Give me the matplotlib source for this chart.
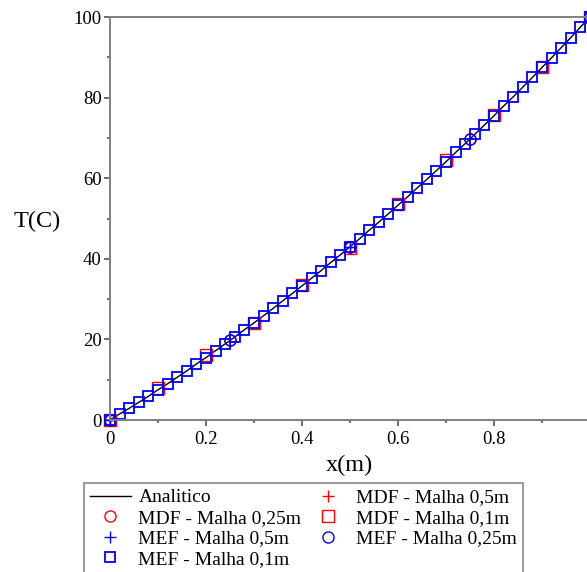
import numpy as np
import matplotlib.pyplot as plt
from matplotlib.ticker import MultipleLocator

plt.rcParams['font.family'] = ['Liberation Serif', 'DejaVu Serif']

# Solucao analitica e MEF com malha 0,1m (pontos a cada 0,02)
x_fino = np.round(np.arange(0, 1.0001, 0.02), 2)
T_analitico = [0.0, 1.5, 2.9, 4.4, 5.9, 7.5, 9.0, 10.6, 12.2, 13.9,
               15.5, 17.2, 18.9, 20.6, 22.4, 24.1, 25.9, 27.7, 29.6, 31.4,
               33.3, 35.2, 37.1, 39.1, 41.0, 43.0, 45.0, 47.1, 49.1, 51.2,
               53.3, 55.4, 57.6, 59.7, 61.9, 64.1, 66.4, 68.6, 70.9, 73.2,
               75.5, 77.9, 80.2, 82.6, 85.0, 87.5, 89.9, 92.4, 94.9, 97.5,
               100.0]
T_mef_01 = T_analitico

# MDF - malhas 0,5m / 0,25m / 0,1m
x_05 = [0, 0.5, 1]
T_mdf_05 = [0, 43.0, 100]
x_025 = [0, 0.25, 0.5, 0.75, 1]
T_mdf_025 = [0, 19.8, 43.0, 69.8, 100]
x_01 = [0, 0.1, 0.2, 0.3, 0.4, 0.5, 0.6, 0.7, 0.8, 0.9, 1]
T_mdf_01 = [0, 7.9, 16.2, 24.0, 33.4, 42.8, 53.5, 64.6, 75.8, 87.6, 100]

# MEF - malhas 0,5m / 0,25m
T_mef_05 = [0, 43.0, 100]
T_mef_025 = [0, 19.8, 43.0, 69.8, 100]

fig = plt.figure(figsize=(5.87, 5.72), dpi=100)
ax = fig.add_axes([0.1874, 0.2657, 0.8177, 0.7045])

h_an, = ax.plot(x_fino, T_analitico, color='black', lw=1.0, label='Analitico')
h1, = ax.plot(x_05, T_mdf_05, ls='none', marker='+', color='red', ms=9, mew=1,
              label='MDF - Malha 0,5m', clip_on=False)
h2, = ax.plot(x_025, T_mdf_025, ls='none', marker='o', color='red', mfc='none',
              ms=8, mew=1, label='MDF - Malha 0,25m', clip_on=False)
h3, = ax.plot(x_01, T_mdf_01, ls='none', marker='s', color='red', mfc='none',
              ms=8.5, mew=1, label='MDF - Malha 0,1m', clip_on=False)
h4, = ax.plot(x_05, T_mef_05, ls='none', marker='+', color='blue', ms=9, mew=1,
              label='MEF - Malha 0,5m', clip_on=False)
h5, = ax.plot(x_025, T_mef_025, ls='none', marker='o', color='blue', mfc='none',
              ms=8, mew=1, label='MEF - Malha 0,25m', clip_on=False)
h6, = ax.plot(x_fino, T_mef_01, ls='none', marker='s', color='blue', mfc='none',
              ms=7.5, mew=1.3, label='MEF - Malha 0,1m', clip_on=False)

ax.set_xlim(0, 1)
ax.set_ylim(0, 100)
ax.xaxis.set_major_locator(MultipleLocator(0.2))
ax.xaxis.set_minor_locator(MultipleLocator(0.1))
ax.yaxis.set_major_locator(MultipleLocator(20))
ax.yaxis.set_minor_locator(MultipleLocator(10))
ax.xaxis.set_major_formatter(lambda v, p: '%g' % round(v, 1))

for s in ax.spines.values():
    s.set_color('#808080')
    s.set_linewidth(1.4)
ax.tick_params(which='major', direction='out', length=4, width=1.2,
               color='#555555', labelsize=13.5, pad=2)
ax.tick_params(which='minor', direction='out', length=2.5, width=1.2,
               color='#555555')
ax.tick_params(axis='x', which='major', pad=4)

fig.text(349 / 587, 1 - 465 / 572, 'x(m)', fontsize=17.5, ha='center', va='center')
fig.text(37 / 587, 1 - 221 / 572, 'T(C)', fontsize=17.5, ha='center', va='center')

# legenda em duas colunas, na ordem de leitura por linhas
handles = [h_an, h2, h4, h6, h1, h3, h5]
leg = fig.legend(handles=handles, loc='upper left',
                 bbox_to_anchor=(84 / 587, 1 - 483 / 572), ncol=2,
                 fontsize=14, frameon=True, fancybox=False, borderpad=0.3,
                 labelspacing=0.15, handlelength=2.1, handletextpad=0.4,
                 columnspacing=0.3, borderaxespad=0)
leg.get_frame().set_edgecolor('#808080')
leg.get_frame().set_linewidth(1.4)

fig.savefig('out.png', dpi=100)
